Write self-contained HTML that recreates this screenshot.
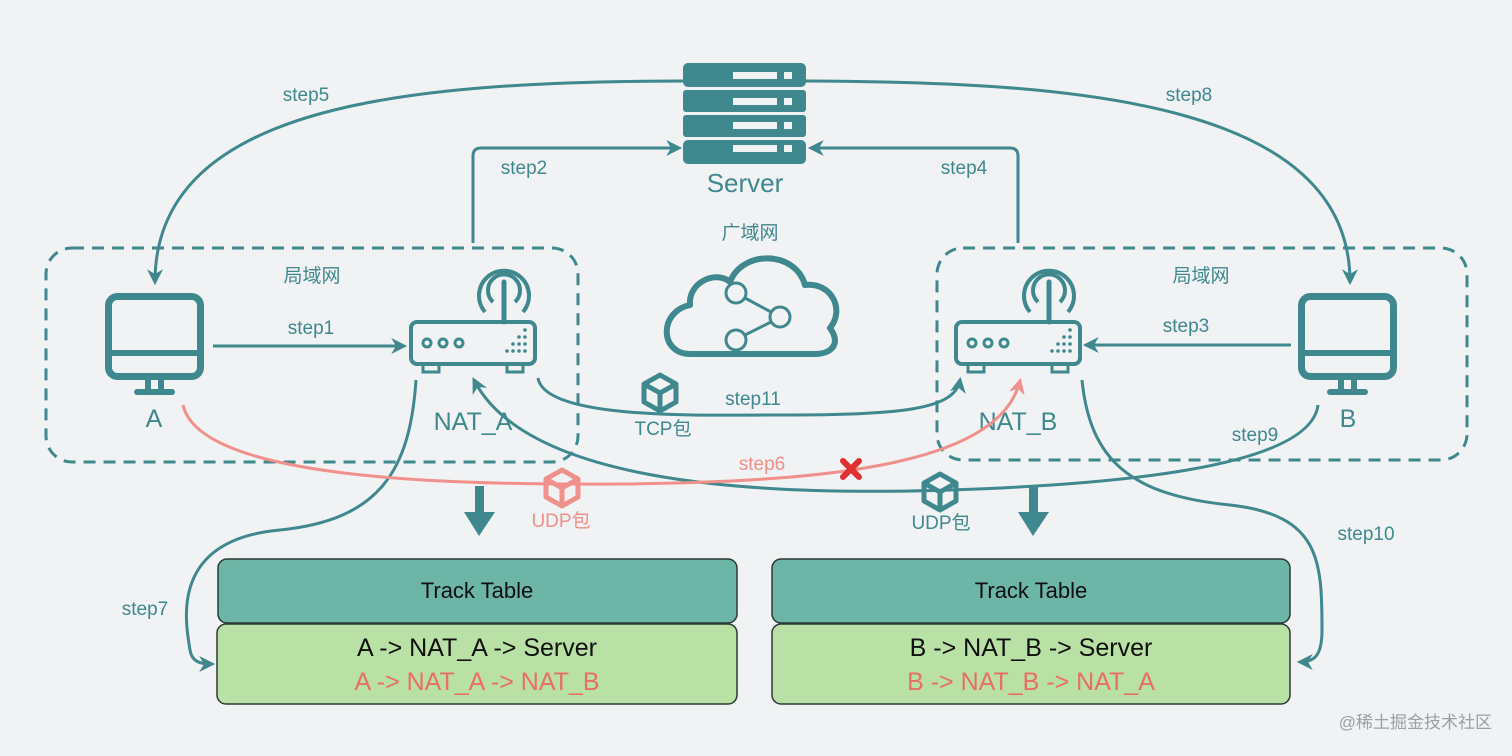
<!DOCTYPE html>
<html><head><meta charset="utf-8"><style>
html,body{margin:0;padding:0;background:#f0f2f4;}
svg{display:block}
text{font-family:"Liberation Sans","Noto Sans CJK SC",sans-serif;}
</style></head><body>
<svg width="1512" height="756" viewBox="0 0 1512 756" xmlns="http://www.w3.org/2000/svg">
<defs>
<marker id="ah" viewBox="0 0 10 10" refX="8" refY="5" markerWidth="6" markerHeight="6" orient="auto-start-reverse" markerUnits="userSpaceOnUse">
<path d="M0,0 L10,5 L0,10 L3,5 z" fill="#3f888d"/></marker>
<marker id="ahb" viewBox="0 0 10 10" refX="8" refY="5" markerWidth="16" markerHeight="16" orient="auto" markerUnits="userSpaceOnUse">
<path d="M0,0 L10,5 L0,10 L3,5 z" fill="#3f888d"/></marker>
<marker id="ahr" viewBox="0 0 10 10" refX="8" refY="5" markerWidth="16" markerHeight="16" orient="auto" markerUnits="userSpaceOnUse">
<path d="M0,0 L10,5 L0,10 L3,5 z" fill="#f0908a"/></marker>
<g id="mon" fill="none" stroke="#3f888d" stroke-width="7">
<rect x="3.5" y="3.5" width="92" height="80" rx="9"/>
<line x1="4" y1="60" x2="95" y2="60" stroke-width="6"/>
<line x1="43" y1="84" x2="43" y2="98" stroke-width="6"/>
<line x1="56" y1="84" x2="56" y2="98" stroke-width="6"/>
<line x1="32" y1="99" x2="67" y2="99" stroke-width="6" stroke-linecap="round"/>
</g>
<g id="rtr" fill="none" stroke="#3f888d">
<rect x="2" y="70" width="124" height="42" rx="6" stroke-width="4"/>
<rect x="14" y="112" width="16" height="8" stroke-width="3"/>
<rect x="98" y="112" width="16" height="8" stroke-width="3"/>
<circle cx="18" cy="91" r="4" stroke-width="3"/><circle cx="34" cy="91" r="4" stroke-width="3"/><circle cx="50" cy="91" r="4" stroke-width="3"/>
<line x1="95" y1="70" x2="95" y2="30" stroke-width="5" stroke-linecap="round"/>
<path d="M84,50 A16,16 0 1 1 106,50" stroke-width="4"/>
<path d="M76,60 A25,25 0 1 1 114,60" stroke-width="4"/>
<g fill="#3f888d" stroke="none">
<circle cx="116" cy="78" r="1.8"/><circle cx="110" cy="85" r="1.8"/><circle cx="116" cy="85" r="1.8"/>
<circle cx="104" cy="92" r="1.8"/><circle cx="110" cy="92" r="1.8"/><circle cx="116" cy="92" r="1.8"/>
<circle cx="98" cy="99" r="1.8"/><circle cx="104" cy="99" r="1.8"/><circle cx="110" cy="99" r="1.8"/><circle cx="116" cy="99" r="1.8"/>
</g>
</g>
<g id="box" fill="none" stroke-width="5" stroke-linejoin="round">
<path d="M0,-18 L16,-9 L16,9 L0,18 L-16,9 L-16,-9 Z"/>
<path d="M-16,-9 L0,0 L16,-9 M0,0 L0,18"/>
</g>
</defs>

<!-- dashed boxes -->
<rect x="46" y="248" width="532" height="214" rx="26" fill="none" stroke="#3f888d" stroke-width="3" stroke-dasharray="12,8"/>
<rect x="937" y="248" width="530" height="212" rx="26" fill="none" stroke="#3f888d" stroke-width="3" stroke-dasharray="12,8"/>

<!-- server -->
<g fill="#3f888d">
<rect x="683" y="63" width="123" height="24" rx="5"/>
<rect x="683" y="90" width="123" height="22" rx="3"/>
<rect x="683" y="115" width="123" height="22" rx="3"/>
<rect x="683" y="140" width="123" height="24" rx="5"/>
</g>
<g fill="#f0f2f4">
<rect x="733" y="72" width="44" height="7"/><rect x="784" y="72" width="8" height="7"/>
<rect x="733" y="98" width="44" height="7"/><rect x="784" y="98" width="8" height="7"/>
<rect x="733" y="122" width="44" height="7"/><rect x="784" y="122" width="8" height="7"/>
<rect x="733" y="145" width="44" height="7"/><rect x="784" y="145" width="8" height="7"/>
</g>
<text x="745" y="192" font-size="26" fill="#3f888d" text-anchor="middle">Server</text>
<text x="750" y="239" font-size="19" fill="#3f888d" text-anchor="middle">广域网</text>

<!-- cloud -->
<path d="M690,354 C660,354 658,312 690,305 C688,282 716,270 730,282 C742,250 795,250 805,285 C832,282 845,310 830,328 C842,345 830,354 815,354 Z" fill="none" stroke="#3f888d" stroke-width="6" stroke-linejoin="round"/>
<g fill="none" stroke="#3f888d" stroke-width="3">
<circle cx="736" cy="293" r="10"/><circle cx="780" cy="317" r="10"/><circle cx="736" cy="340" r="10"/>
<line x1="745" y1="298" x2="771" y2="312"/><line x1="745" y1="335" x2="771" y2="322"/>
</g>

<!-- labels -->
<g font-size="19" fill="#3f888d" text-anchor="middle">
<text x="312" y="282">局域网</text><text x="1201" y="282">局域网</text>
<text x="306" y="101">step5</text><text x="1189" y="101">step8</text>
<text x="524" y="174">step2</text><text x="964" y="174">step4</text>
<text x="311" y="334">step1</text><text x="1186" y="332">step3</text>
<text x="753" y="405">step11</text>
<text x="1255" y="441">step9</text>
<text x="145" y="615">step7</text>
<text x="1366" y="540">step10</text>
<text x="663" y="435">TCP包</text>
<text x="941" y="529">UDP包</text>
</g>
<text x="762" y="470" font-size="19" fill="#f0908a" text-anchor="middle">step6</text>
<text x="561" y="527" font-size="19" fill="#f0908a" text-anchor="middle">UDP包</text>
<g font-size="25" fill="#3f888d" text-anchor="middle">
<text x="154" y="427">A</text><text x="1348" y="427">B</text>
<text x="473" y="430">NAT_A</text><text x="1018" y="430">NAT_B</text>
</g>

<!-- icons -->
<use href="#mon" x="105" y="293"/>
<use href="#mon" x="1298" y="293"/>
<use href="#rtr" x="409" y="252"/>
<use href="#rtr" x="954" y="252"/>

<!-- connectors -->
<g fill="none" stroke="#3f888d" stroke-width="3">
<path d="M213,346 L404,346" marker-end="url(#ahb)"/>
<path d="M1291,345 L1086,345" marker-end="url(#ahb)"/>
<path d="M473,243 L473,156 Q473,148 481,148 L679,148" marker-end="url(#ahb)"/>
<path d="M1018,243 L1018,156 Q1018,148 1010,148 L811,148" marker-end="url(#ahb)"/>
<path d="M683,81 C420,82 155,100 155,282" marker-end="url(#ahb)"/>
<path d="M806,81 C1070,82 1350,100 1350,282" marker-end="url(#ahb)"/>
<path d="M538,378 C545,420 700,415 780,415 C900,415 955,410 960,380" marker-end="url(#ahb)"/>
<path d="M1318,405 C1310,470 1100,485 950,490 C700,498 520,470 474,380" marker-end="url(#ahb)"/>
<path d="M416,380 C410,470 380,520 280,530 C170,540 185,620 190,650 C192,662 200,664 212,664" marker-end="url(#ahb)"/>
<path d="M1082,380 C1090,460 1130,495 1230,505 C1320,515 1322,560 1322,630 C1322,655 1315,662 1300,662" marker-end="url(#ahb)"/>
</g>
<path d="M183,405 C200,480 450,485 620,484 C850,482 1000,460 1020,381" fill="none" stroke="#f0908a" stroke-width="3" marker-end="url(#ahr)"/>

<!-- X -->
<g stroke="#e03030" stroke-width="6" stroke-linecap="round"><line x1="843" y1="461" x2="859" y2="477"/><line x1="859" y1="461" x2="843" y2="477"/></g>

<!-- packet boxes -->
<use href="#box" x="660" y="393" stroke="#3f888d"/>
<use href="#box" x="562" y="488" stroke="#f0908a"/>
<use href="#box" x="940" y="492" stroke="#3f888d"/>

<!-- big arrows -->
<g fill="#3f888d">
<rect x="475" y="486" width="9" height="28"/><path d="M464,512 L495,512 L479,536 Z"/>
<rect x="1029" y="486" width="9" height="28"/><path d="M1018,512 L1049,512 L1033,536 Z"/>
</g>

<!-- tables -->
<g stroke="#2a3a35" stroke-width="1.5">
<rect x="218" y="559" width="519" height="64" rx="9" fill="#6db5a6"/>
<rect x="217" y="624" width="520" height="80" rx="9" fill="#b9e0a5"/>
<rect x="772" y="559" width="518" height="64" rx="9" fill="#6db5a6"/>
<rect x="772" y="624" width="518" height="80" rx="9" fill="#b9e0a5"/>
</g>
<g text-anchor="middle">
<text x="477" y="598" font-size="22" fill="#111">Track Table</text>
<text x="1031" y="598" font-size="22" fill="#111">Track Table</text>
<text x="477" y="656" font-size="25" fill="#111">A -&gt; NAT_A -&gt; Server</text>
<text x="477" y="690" font-size="25" fill="#e86e66">A -&gt; NAT_A -&gt; NAT_B</text>
<text x="1031" y="656" font-size="25" fill="#111">B -&gt; NAT_B -&gt; Server</text>
<text x="1031" y="690" font-size="25" fill="#e86e66">B -&gt; NAT_B -&gt; NAT_A</text>
</g>
<text x="1492" y="728" font-size="17" fill="#9aa0a6" text-anchor="end">@稀土掘金技术社区</text>
</svg>
</body></html>
